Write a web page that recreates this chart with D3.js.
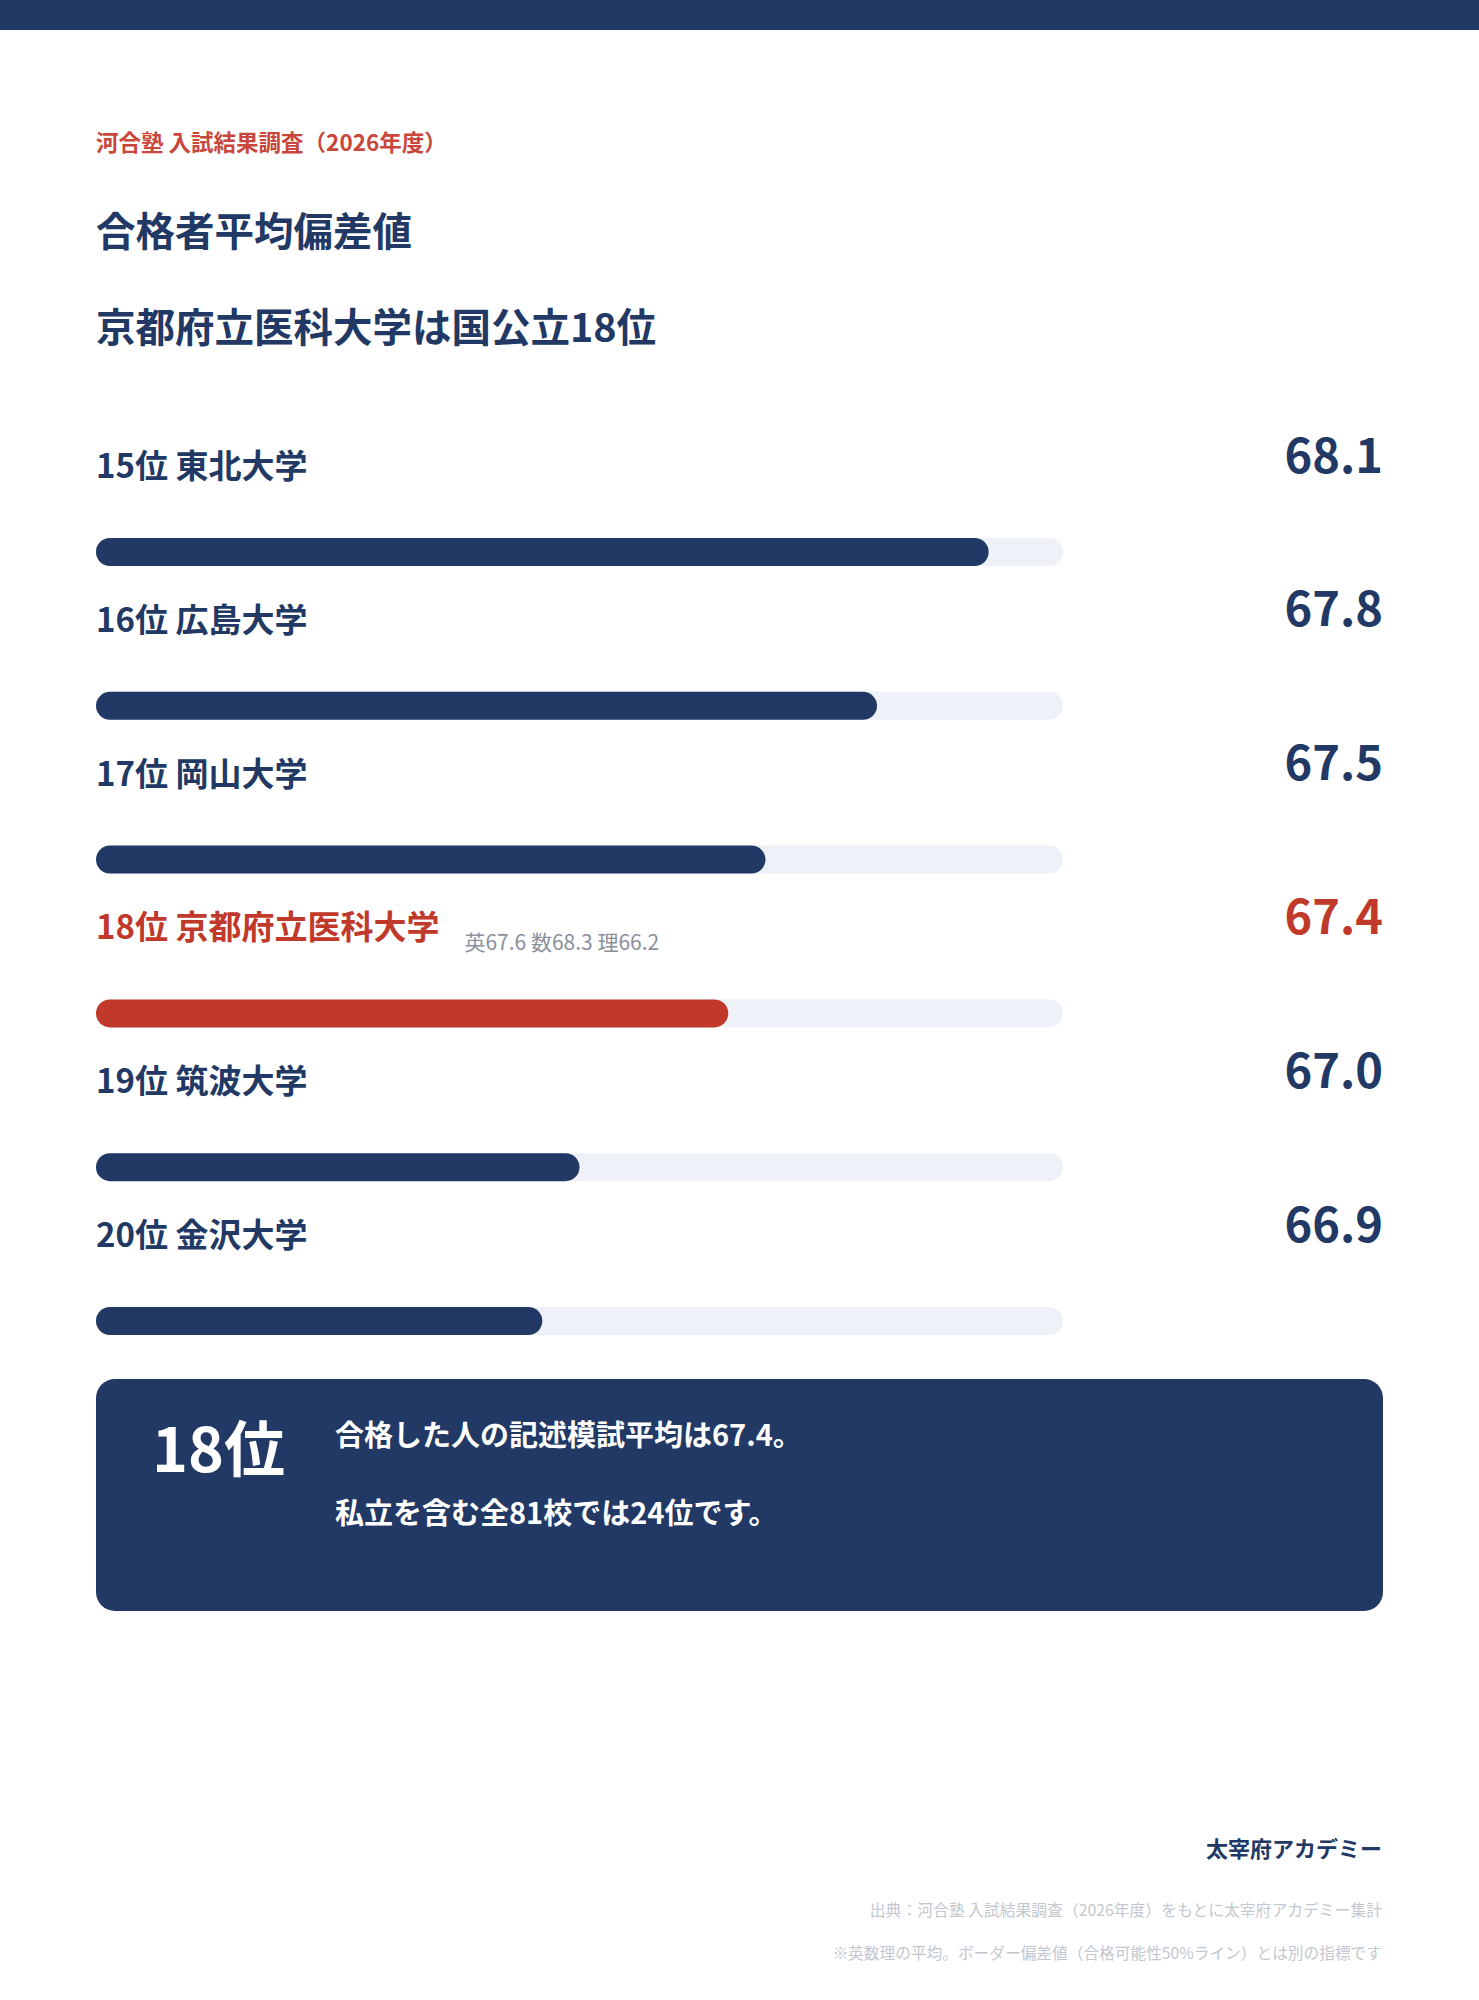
<!DOCTYPE html>
<html lang="ja">
<head>
<meta charset="utf-8">
<script src="https://cdn.jsdelivr.net/npm/d3@7"></script>
<style>
  body { margin: 0; background: #fff; }
  svg { display: block; font-family: "Noto Sans CJK JP", "Noto Sans", sans-serif; }
</style>
</head>
<body>
<svg id="chart" width="1479" height="2000"></svg>
<script>
// データ
const ranks = ["15位", "16位", "17位", "18位", "19位", "20位"];
const names = ["東北大学", "広島大学", "岡山大学", "京都府立医科大学", "筑波大学", "金沢大学"];
const values = [68.1, 67.8, 67.5, 67.4, 67.0, 66.9];
const highlight = "京都府立医科大学";
const subScores = ["英67.6", "数68.3", "理66.2"];
const scaleDomain = [65.7, 68.3];

const navy = "#213964";
const red = "#c0392b";
const track = "#eef1f8";

const svg = d3.select("#chart");

const rows = names.map((n, i) => ({ rank: ranks[i], name: n, value: values[i] }));

const x = d3.scaleLinear().domain(scaleDomain).range([96, 1063]);
const y = d3.scaleLinear().domain([0, 1]).range([552, 705.8]); // 行の中心 (バー)

// 上の帯
svg.append("rect").attr("x", 0).attr("y", 0).attr("width", 1479).attr("height", 30).attr("fill", navy);

// 見出し
svg.append("text").attr("x", 96).attr("y", 140.5)
  .attr("dominant-baseline", "central")
  .attr("font-size", 22.5).attr("font-weight", 700).attr("fill", "#c8463a")
  .text("河合塾 入試結果調査（2026年度）");

svg.append("text").attr("x", 96).attr("y", 228)
  .attr("dominant-baseline", "central")
  .attr("font-size", 39.5).attr("font-weight", 700).attr("fill", navy)
  .text("合格者平均偏差値");

svg.append("text").attr("x", 96).attr("y", 324)
  .attr("dominant-baseline", "central")
  .attr("font-size", 39.5).attr("font-weight", 700).attr("fill", navy)
  .text("京都府立医科大学は国公立18位");

// 行
const g = svg.selectAll("g.row")
  .data(rows)
  .enter()
  .append("g")
    .attr("class", "row")
    .attr("transform", (d, i) => "translate(0," + y(i) + ")");

const color = d => d.name === highlight ? red : navy;

const label = g.append("text")
  .attr("x", 96).attr("y", -88)
  .attr("dominant-baseline", "central")
  .attr("font-size", 33).attr("font-weight", 700)
  .attr("fill", color)
  .text(d => d.rank + " " + d.name);

g.append("text")
  .attr("x", 1383).attr("y", -100)
  .attr("text-anchor", "end")
  .attr("dominant-baseline", "central")
  .attr("font-size", 47).attr("font-weight", 700)
  .attr("fill", color)
  .text(d => d3.format(".1f")(d.value));

g.append("rect")
  .attr("x", x.range()[0]).attr("y", -14)
  .attr("width", x.range()[1] - x.range()[0]).attr("height", 28)
  .attr("rx", 14)
  .attr("fill", track);

g.append("rect")
  .attr("x", x.range()[0]).attr("y", -14)
  .attr("width", d => x(d.value) - x.range()[0]).attr("height", 28)
  .attr("rx", 14)
  .attr("fill", color);

// 英数理の内訳
label.filter(d => d.name === highlight).each(function() {
  const w = this.getComputedTextLength();
  d3.select(this.parentNode).append("text")
    .attr("x", 96 + w + 25).attr("y", -72)
    .attr("dominant-baseline", "central")
    .attr("font-size", 21).attr("fill", "#8a909c")
    .text(subScores.join(" "));
});

// まとめのボックス
svg.append("rect").attr("x", 96).attr("y", 1379)
  .attr("width", 1287).attr("height", 232).attr("rx", 19)
  .attr("fill", navy);

svg.append("text").attr("x", 152).attr("y", 1445)
  .attr("dominant-baseline", "central")
  .attr("font-size", 61).attr("font-weight", 700).attr("fill", "#fff")
  .text("18位");

svg.append("text").attr("x", 335).attr("y", 1433)
  .attr("dominant-baseline", "central")
  .attr("font-size", 29).attr("font-weight", 700).attr("fill", "#fff")
  .text("合格した人の記述模試平均は67.4。");

svg.append("text").attr("x", 335).attr("y", 1511)
  .attr("dominant-baseline", "central")
  .attr("font-size", 29).attr("font-weight", 700).attr("fill", "#fff")
  .text("私立を含む全81校では24位です。");

// フッター
svg.append("text").attr("x", 1382).attr("y", 1847)
  .attr("text-anchor", "end").attr("dominant-baseline", "central")
  .attr("font-size", 22).attr("font-weight", 700).attr("fill", navy)
  .text("太宰府アカデミー");

svg.append("text").attr("x", 1382).attr("y", 1909)
  .attr("text-anchor", "end").attr("dominant-baseline", "central")
  .attr("font-size", 15.8).attr("fill", "#c3c7cf")
  .text("出典：河合塾 入試結果調査（2026年度）をもとに太宰府アカデミー集計");

svg.append("text").attr("x", 1382).attr("y", 1952)
  .attr("text-anchor", "end").attr("dominant-baseline", "central")
  .attr("font-size", 15.7).attr("fill", "#c3c7cf")
  .text("※英数理の平均。ボーダー偏差値（合格可能性50%ライン）とは別の指標です");
</script>
</body>
</html>
